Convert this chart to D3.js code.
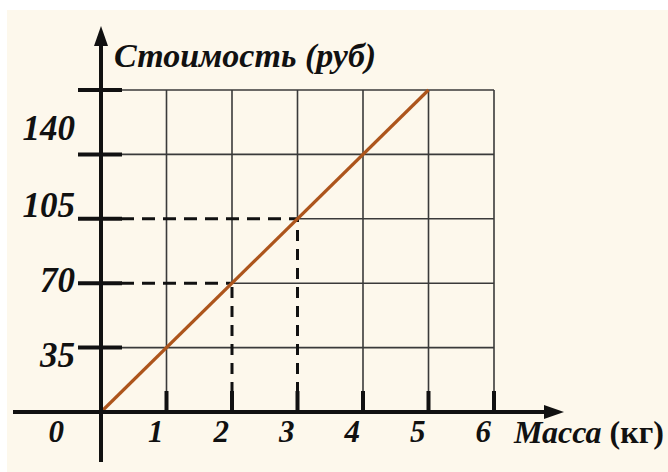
<!DOCTYPE html>
<html>
<head>
<meta charset="utf-8">
<script src="https://cdn.jsdelivr.net/npm/d3@7"></script>
<style>
	body { margin: 0; background: #ffffff; }
	svg { display: block; }
	text { font-family: "Liberation Serif", "Times New Roman", serif; fill: #111; }
</style>
</head>
<body>
<svg id="MainView" width="668" height="472"></svg>
<script>
// данные
var massTicks = [1, 2, 3, 4, 5, 6];
var costTicks = [35, 70, 105, 140, 175];
var costLabels = ["35", "70", "105", "140"];
var lineMass = [0, 5];
var lineCost = [0, 175];
var guideMass = [2, 3];     // пунктир до точек
var guideCost = [70, 105];

var svg = d3.select("#MainView");

var width = 668,
	height = 472;
	ink = "#111";
	grid_color = "#3a3a3a";
	line_color = "#ad551c";

// кремовый фон
svg.append("rect")
	.attr("x", 7).attr("y", 10)
	.attr("width", width - 7).attr("height", height - 10)
	.style("fill", "#fdf8ec");

var x = d3.scaleLinear().domain([0, 6]).range([101, 494]);
var y = d3.scaleLinear().domain([0, 175]).range([412, 90]);

var g = svg.append("g");

// вертикальные линии сетки (у 2 и 3 нижняя часть пунктирная)
g.append("g").selectAll("line")
	.data(massTicks).enter()
	.append("line")
	.attr("x1", function(d){ return x(d); })
	.attr("x2", function(d){ return x(d); })
	.attr("y1", y(175))
	.attr("y2", function(d){
		var k = guideMass.indexOf(d);
		return k < 0 ? y(0) : y(guideCost[k]);
	})
	.style("stroke", grid_color)
	.style("stroke-width", 1.6);

// горизонтальные линии сетки
g.append("g").selectAll("line")
	.data(costTicks).enter()
	.append("line")
	.attr("y1", function(d){ return y(d); })
	.attr("y2", function(d){ return y(d); })
	.attr("x1", function(d){
		var k = guideCost.indexOf(d);
		return k < 0 ? x(0) : x(guideMass[k]);
	})
	.attr("x2", x(6))
	.style("stroke", grid_color)
	.style("stroke-width", 1.6);

// пунктир
var guides = g.append("g");
guideMass.forEach(function(m, i){
	guides.append("line")
		.attr("x1", x(m)).attr("x2", x(m))
		.attr("y1", y(0)).attr("y2", y(guideCost[i]))
		.style("stroke", ink).style("stroke-width", 3)
		.style("stroke-dasharray", "11,8");
	guides.append("line")
		.attr("x1", x(0) + 20).attr("x2", x(m))
		.attr("y1", y(guideCost[i])).attr("y2", y(guideCost[i]))
		.style("stroke", ink).style("stroke-width", 3)
		.style("stroke-dasharray", "13,8");
});

// график
g.append("path")
	.datum(d3.zip(lineMass, lineCost))
	.attr("d", d3.line()
		.x(function(d){ return x(d[0]); })
		.y(function(d){ return y(d[1]); }))
	.style("fill", "none")
	.style("stroke", line_color)
	.style("stroke-width", 3.2);

// засечки на оси Y
g.append("g").selectAll("line")
	.data(costTicks).enter()
	.append("line")
	.attr("x1", x(0) - 23).attr("x2", x(0) + 21)
	.attr("y1", function(d){ return y(d); })
	.attr("y2", function(d){ return y(d); })
	.style("stroke", ink).style("stroke-width", 4);

// засечки на оси X
g.append("g").selectAll("line")
	.data(massTicks).enter()
	.append("line")
	.attr("x1", function(d){ return x(d); })
	.attr("x2", function(d){ return x(d); })
	.attr("y1", y(0) - 21).attr("y2", y(0))
	.style("stroke", ink).style("stroke-width", 4);

// оси со стрелками
g.append("line")
	.attr("x1", x(0)).attr("x2", x(0))
	.attr("y1", y(0) + 50).attr("y2", 42)
	.style("stroke", ink).style("stroke-width", 4);
g.append("path")
	.attr("d", "M" + (x(0) - 7) + ",46 L" + x(0) + ",26 L" + (x(0) + 7) + ",46 Z")
	.style("fill", ink);

g.append("line")
	.attr("x1", 13).attr("x2", 548)
	.attr("y1", y(0)).attr("y2", y(0))
	.style("stroke", ink).style("stroke-width", 4);
g.append("path")
	.attr("d", "M544," + (y(0) - 7) + " L564," + y(0) + " L544," + (y(0) + 7) + " Z")
	.style("fill", ink);

// подписи оси Y
var label_dy = [19, 9, -2, -14];
g.append("g").selectAll("text")
	.data(costLabels).enter()
	.append("text")
	.attr("x", 75)
	.attr("y", function(d, i){ return y(+d) + label_dy[i]; })
	.attr("text-anchor", "end")
	.style("font-size", "35px")
	.style("font-weight", "bold")
	.style("font-style", "italic")
	.text(function(d){ return d; });

// подписи оси X
g.append("g").selectAll("text")
	.data([0].concat(massTicks)).enter()
	.append("text")
	.attr("x", function(d){ return d === 0 ? 64 : x(d) - 3; })
	.attr("y", 442)
	.attr("text-anchor", "end")
	.style("font-size", "31px")
	.style("font-weight", "bold")
	.style("font-style", "italic")
	.text(function(d){ return d; });

// названия осей
g.append("text")
	.attr("x", 114).attr("y", 67)
	.style("font-size", "34px")
	.style("font-weight", "bold")
	.style("font-style", "italic")
	.text("Стоимость (руб)");

var xt = g.append("text")
	.attr("x", 514).attr("y", 443)
	.style("font-size", "32px")
	.style("font-weight", "bold");
xt.append("tspan")
	.style("font-style", "italic")
	.text("Масса");
xt.append("tspan")
	.text(" (кг)");
</script>
</body>
</html>
